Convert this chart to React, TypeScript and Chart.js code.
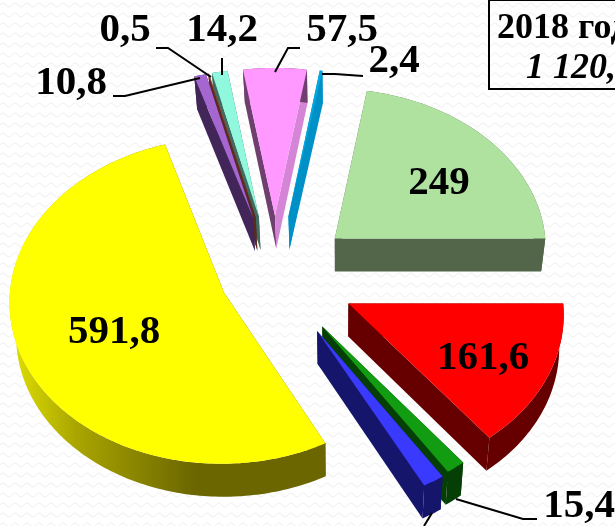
import React, { useEffect, useRef } from "react";
import { Chart, registerables } from "chart.js";

Chart.register(...registerables);

const categories = ["Красный", "Тёмно-зелёный", "Синий", "Жёлтый", "Фиолетовый", "Коричневый", "Бирюзовый", "Розовый", "Голубой", "Зелёный"];
const values = [161.6, 15.4, 17.2, 591.8, 10.8, 0.5, 14.2, 57.5, 2.4, 249];
const valueLabels = ["161,6", "15,4", "", "591,8", "10,8", "0,5", "14,2", "57,5", "2,4", "249"];
const explode = [81, 80, 82, 55, 82, 82, 82, 82, 82, 79];
const topColors = ["#FF0000", "#129C12", "#3A3AFF", "#FFFF00", "#A566D0", "#B5533F", "#90F8DC", "#FF99FF", "#00A8E0", "#AFE19F"];
const startWallColors = ["#660000", "#063F06", "#15156B", "#6B6600", "#42265A", "#5A2A20", "#3F6B60", "#6F3F6F", "#0090C8", "#53664A"];
const endWallColors = ["#660000", "#063F06", "#15156B", "#6B6600", "#42265A", "#5A2A20", "#3F6B60", "#D585D5", "#0090C8", "#53664A"];
const titleLines = ["2018 год", "1 120,4"];

const labelAnchors: [number, number][] = [
  [483, 358], [579, 506], [0, 0], [114, 332], [71, 83], [125, 30], [222, 30], [342, 30], [394, 61], [439, 183],
];
const leaders: [number, number][][] = [
  [[113, 96], [125, 96], [200, 78]],
  [[156, 48], [168, 48], [211, 77]],
  [[222, 58], [222, 75]],
  [[300, 48], [288, 48], [275, 72]],
  [[322, 74], [335, 74], [363, 76]],
  [[456, 499], [523, 519], [537, 519]],
  [[432, 513], [424, 526]],
];

const R = 213;
const CX = 275;
const CY = 276.5;
const TILT = 0.756;
const PERSPECTIVE = 0.05;
const DEPTH = 33;
const SERIF = '"Liberation Serif", serif';

const project = (X: number, Y: number, down: boolean): [number, number] => {
  const w = 1 - (PERSPECTIVE * Y) / R;
  let sx = CX + X / w;
  let sy = CY + (TILT * Y) / w;
  if (down) {
    sx = 340 + (sx - 340) * 0.98;
    sy += DEPTH;
  }
  return [sx, sy];
};

const fillPoly = (ctx: CanvasRenderingContext2D, pts: [number, number][], fill: string | CanvasGradient) => {
  ctx.beginPath();
  pts.forEach((p, i) => (i ? ctx.lineTo(p[0], p[1]) : ctx.moveTo(p[0], p[1])));
  ctx.closePath();
  ctx.fillStyle = fill;
  ctx.fill();
};

const tiltedPie = {
  id: "tiltedPie",
  beforeDraw(chart: any) {
    const { ctx, width, height } = chart;
    const tile = document.createElement("canvas");
    tile.width = 12;
    tile.height = 10;
    const t = tile.getContext("2d")!;
    t.fillStyle = "#ffffff";
    t.fillRect(0, 0, 12, 10);
    t.strokeStyle = "#f5f5f5";
    t.lineWidth = 1.4;
    t.beginPath();
    t.moveTo(0, 5);
    t.quadraticCurveTo(3, 1, 6, 5);
    t.quadraticCurveTo(9, 9, 12, 5);
    t.stroke();
    ctx.save();
    ctx.fillStyle = ctx.createPattern(tile, "repeat");
    ctx.fillRect(0, 0, width, height);
    ctx.restore();
  },
  beforeDatasetDraw(chart: any) {
    const { ctx } = chart;
    const arcs = chart.getDatasetMeta(0).data;
    const items = arcs.map((arc: any, i: number) => {
      const mid = (arc.startAngle + arc.endAngle) / 2;
      const off = arc.options.offset;
      return { arc, i, ox: Math.cos(mid) * off, oy: Math.sin(mid) * off };
    });
    items.sort((a: any, b: any) => a.oy - b.oy);
    ctx.save();
    for (const { arc, i, ox, oy } of items) {
      const steps = Math.max(2, Math.ceil(((arc.endAngle - arc.startAngle) * 180) / Math.PI));
      const rim: [number, number][] = [];
      for (let s = 0; s <= steps; s++) {
        const a = arc.startAngle + ((arc.endAngle - arc.startAngle) * s) / steps;
        rim.push([ox + arc.outerRadius * Math.cos(a), oy + arc.outerRadius * Math.sin(a)]);
      }
      const topRim = rim.map((p) => project(p[0], p[1], false));
      const lowRim = rim.map((p) => project(p[0], p[1], true));
      const apexTop = project(ox, oy, false);
      const apexLow = project(ox, oy, true);
      let outerFill: string | CanvasGradient = startWallColors[i];
      if (values[i] === Math.max(...values)) {
        const g = ctx.createLinearGradient(15, 0, 195, 0);
        g.addColorStop(0, "#DCDC00");
        g.addColorStop(0.35, "#A8A400");
        g.addColorStop(1, "#6B6600");
        outerFill = g;
      }
      fillPoly(ctx, [apexTop, topRim[0], lowRim[0], apexLow], startWallColors[i]);
      fillPoly(ctx, [apexTop, topRim[steps], lowRim[steps], apexLow], endWallColors[i]);
      fillPoly(ctx, [...topRim, ...lowRim.slice().reverse()], outerFill);
      fillPoly(ctx, [apexTop, ...topRim], arc.options.backgroundColor);
    }
    ctx.restore();
    return false;
  },
  afterDraw(chart: any) {
    const { ctx } = chart;
    ctx.save();
    ctx.strokeStyle = "#000";
    ctx.lineWidth = 2;
    leaders.forEach((line) => {
      ctx.beginPath();
      line.forEach((p, i) => (i ? ctx.lineTo(p[0], p[1]) : ctx.moveTo(p[0], p[1])));
      ctx.stroke();
    });
    ctx.fillStyle = "#000";
    ctx.font = `bold 41px ${SERIF}`;
    ctx.textAlign = "center";
    ctx.textBaseline = "middle";
    valueLabels.forEach((txt, i) => {
      if (txt) ctx.fillText(txt, labelAnchors[i][0], labelAnchors[i][1]);
    });
    ctx.lineWidth = 2;
    ctx.strokeRect(489, 0, 160, 89);
    ctx.textAlign = "left";
    ctx.textBaseline = "alphabetic";
    ctx.font = `bold 36px ${SERIF}`;
    ctx.fillText(titleLines[0], 497, 38);
    ctx.font = `italic bold 36px ${SERIF}`;
    ctx.fillText(titleLines[1], 526, 78);
    ctx.restore();
  },
};

export default function App() {
  const ref = useRef<HTMLCanvasElement>(null);
  useEffect(() => {
    const chart = new Chart(ref.current!, {
      type: "pie",
      data: {
        labels: categories,
        datasets: [{ data: values, backgroundColor: topColors, offset: explode, borderWidth: 0 }],
      },
      options: {
        animation: false,
        responsive: false,
        rotation: 90,
        radius: R,
        plugins: { legend: { display: false }, tooltip: { enabled: false } },
      } as any,
      plugins: [tiltedPie],
    });
    return () => chart.destroy();
  }, []);
  return (
    <div style={{ position: "fixed", left: 0, top: 0, width: 615, height: 526, overflow: "hidden" }}>
      <canvas ref={ref} width={615} height={526} style={{ display: "block" }} />
    </div>
  );
}
